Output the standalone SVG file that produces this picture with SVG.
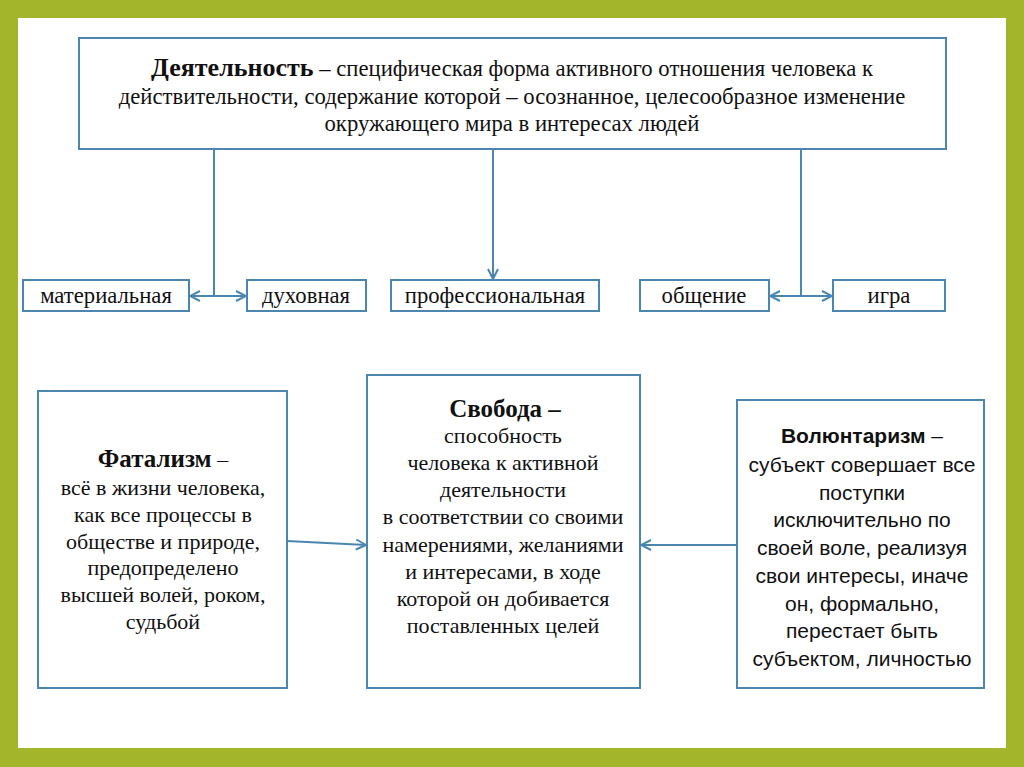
<svg xmlns="http://www.w3.org/2000/svg" width="1024" height="767" viewBox="0 0 1024 767">
<defs>
<style>
.box{fill:#fff;stroke:#4a86b0;stroke-width:2}
.t{fill:#111;text-anchor:middle}
.b{font-weight:bold}
.con{fill:none;stroke:#4a86b0;stroke-width:2}
</style>
<marker id="ah" viewBox="0 0 12 12" refX="11" refY="6" markerWidth="12" markerHeight="12" markerUnits="userSpaceOnUse" orient="auto">
<path d="M1,1 L11,6 L1,11" fill="none" stroke="#4a86b0" stroke-width="2"/>
</marker>
</defs>
<rect x="0" y="0" width="1024" height="767" fill="#a3b52b"/>
<rect x="18" y="18" width="988" height="730" fill="#fff"/>

<g id="top" style="font-family:'Liberation Serif',serif;font-size:22.7px">
<rect class="box" x="79" y="38" width="867" height="111"/>
<text class="t" x="512" y="76"><tspan class="b" style="font-size:26px">Деятельность</tspan> – специфическая форма активного отношения человека к</text>
<text class="t" x="512" y="104">действительности, содержание которой – осознанное, целесообразное изменение</text>
<text class="t" x="512" y="131">окружающего мира в интересах людей</text>
</g>

<g style="font-family:'Liberation Serif',serif;font-size:22.7px">
<g id="material"><rect class="box" x="23" y="280" width="166" height="31"/><text class="t" x="106" y="303">материальная</text></g>
<g id="dukh"><rect class="box" x="247" y="280" width="119" height="31"/><text class="t" x="306" y="303">духовная</text></g>
<g id="prof"><rect class="box" x="391" y="280" width="208" height="31"/><text class="t" x="495" y="303">профессиональная</text></g>
<g id="obsh"><rect class="box" x="640" y="280" width="129" height="31"/><text class="t" x="704" y="303">общение</text></g>
<g id="igra"><rect class="box" x="833" y="280" width="112" height="31"/><text class="t" x="889" y="303">игра</text></g>
</g>

<g id="fatal" style="font-family:'Liberation Serif',serif;font-size:22px">
<rect class="box" x="38" y="391" width="249" height="297"/>
<text class="t" x="163" y="467"><tspan class="b" style="font-size:25px">Фатализм</tspan> –</text>
<text class="t" x="163" y="495">всё в жизни человека,</text>
<text class="t" x="163" y="522">как все процессы в</text>
<text class="t" x="163" y="549">обществе и природе,</text>
<text class="t" x="163" y="575">предопределено</text>
<text class="t" x="163" y="602">высшей волей, роком,</text>
<text class="t" x="163" y="629">судьбой</text>
</g>

<g id="svoboda" style="font-family:'Liberation Serif',serif;font-size:22px">
<rect class="box" x="367" y="375" width="273" height="313"/>
<text class="t b" x="505" y="417" style="font-size:25px">Свобода –</text>
<text class="t" x="503" y="443">способность</text>
<text class="t" x="503" y="470">человека к активной</text>
<text class="t" x="503" y="497">деятельности</text>
<text class="t" x="503" y="524">в соответствии со своими</text>
<text class="t" x="503" y="552">намерениями, желаниями</text>
<text class="t" x="503" y="579">и интересами, в ходе</text>
<text class="t" x="503" y="606">которой он добивается</text>
<text class="t" x="503" y="633">поставленных целей</text>
</g>

<g id="volunt" style="font-family:'Liberation Sans',sans-serif;font-size:21px">
<rect class="box" x="737" y="400" width="247" height="288"/>
<text class="t" x="862" y="443"><tspan class="b">Волюнтаризм</tspan> –</text>
<text class="t" x="862" y="472">субъект совершает все</text>
<text class="t" x="862" y="500">поступки</text>
<text class="t" x="862" y="527">исключительно по</text>
<text class="t" x="862" y="555">своей воле, реализуя</text>
<text class="t" x="862" y="583">свои интересы, иначе</text>
<text class="t" x="862" y="611">он, формально,</text>
<text class="t" x="862" y="638">перестает быть</text>
<text class="t" x="862" y="666">субъектом, личностью</text>
</g>

<g id="connectors">
<path class="con" d="M214,149 V296"/>
<path class="con" d="M214,296 H190" marker-end="url(#ah)"/>
<path class="con" d="M214,296 H246" marker-end="url(#ah)"/>
<path class="con" d="M493,149 V279" marker-end="url(#ah)"/>
<path class="con" d="M801,149 V296"/>
<path class="con" d="M801,296 H770" marker-end="url(#ah)"/>
<path class="con" d="M801,296 H832" marker-end="url(#ah)"/>
<path class="con" d="M287,541 L366,545" marker-end="url(#ah)"/>
<path class="con" d="M737,545 H641" marker-end="url(#ah)"/>
</g>
</svg>
